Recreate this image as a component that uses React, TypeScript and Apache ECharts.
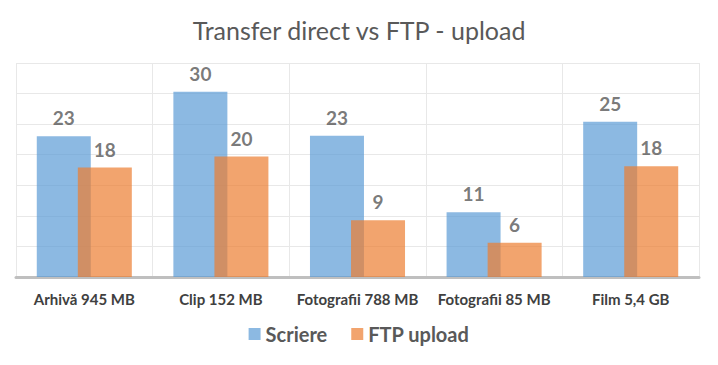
import React, { useEffect, useRef } from "react";
import * as echarts from "echarts";

const categories = ["Arhivă 945 MB", "Clip 152 MB", "Fotografii 788 MB", "Fotografii 85 MB", "Film 5,4 GB"];
const scriere = [23, 30.3, 23.1, 10.6, 25.4];
const ftpUpload = [17.9, 19.7, 9.3, 5.6, 18.1];
const seriesNames = ["Scriere", "FTP upload"];

export default function App() {
  const ref = useRef<HTMLDivElement>(null);
  useEffect(() => {
    const chart = echarts.init(ref.current!, null, { renderer: "svg" });
    const font = "Lato, 'Open Sans', sans-serif";
    const label = {
      show: true,
      position: "top",
      distance: 9,
      fontFamily: font,
      fontSize: 19,
      fontWeight: "bold",
      color: "#404040",
      formatter: (p: any) => Math.round(p.value).toString(),
    };
    chart.setOption({
      animation: false,
      title: {
        text: "Transfer direct vs FTP - upload",
        left: "center",
        top: 12,
        textStyle: { fontFamily: font, fontSize: 25, fontWeight: "normal", color: "#595959" },
      },
      legend: {
        bottom: 16,
        left: "center",
        itemWidth: 12,
        itemHeight: 12,
        itemGap: 24,
        icon: "rect",
        textStyle: { fontFamily: font, fontSize: 20, fontWeight: "bold", color: "#595959" },
        data: seriesNames,
      },
      grid: { left: 16, right: 19, top: 63, bottom: 88 },
      xAxis: {
        type: "category",
        data: categories,
        axisLine: { lineStyle: { color: "#bfbfbf", width: 3 } },
        axisTick: { show: false },
        splitLine: { show: true, lineStyle: { color: "#e8e8e8", width: 1 } },
        axisLabel: { fontFamily: font, fontSize: 15, fontWeight: "bold", color: "#404040", margin: 14, interval: 0 },
      },
      yAxis: {
        type: "value",
        min: 0,
        max: 35,
        interval: 5,
        axisLabel: { show: false },
        axisLine: { show: false },
        axisTick: { show: false },
        splitLine: { lineStyle: { color: "#e8e8e8", width: 1 } },
      },
      series: [
        {
          name: seriesNames[0],
          type: "bar",
          data: scriere,
          barWidth: 54,
          barGap: "-24%",
          itemStyle: { color: "#5B9BD5", opacity: 0.7 },
          label,
        },
        {
          name: seriesNames[1],
          type: "bar",
          data: ftpUpload,
          barWidth: 54,
          itemStyle: { color: "#ED7D31", opacity: 0.7 },
          label,
        },
      ],
    });
    return () => chart.dispose();
  }, []);
  return (
    <div
      ref={ref}
      style={{ position: "absolute", left: 0, top: 0, width: 718, height: 365, background: "#fff" }}
    />
  );
}
